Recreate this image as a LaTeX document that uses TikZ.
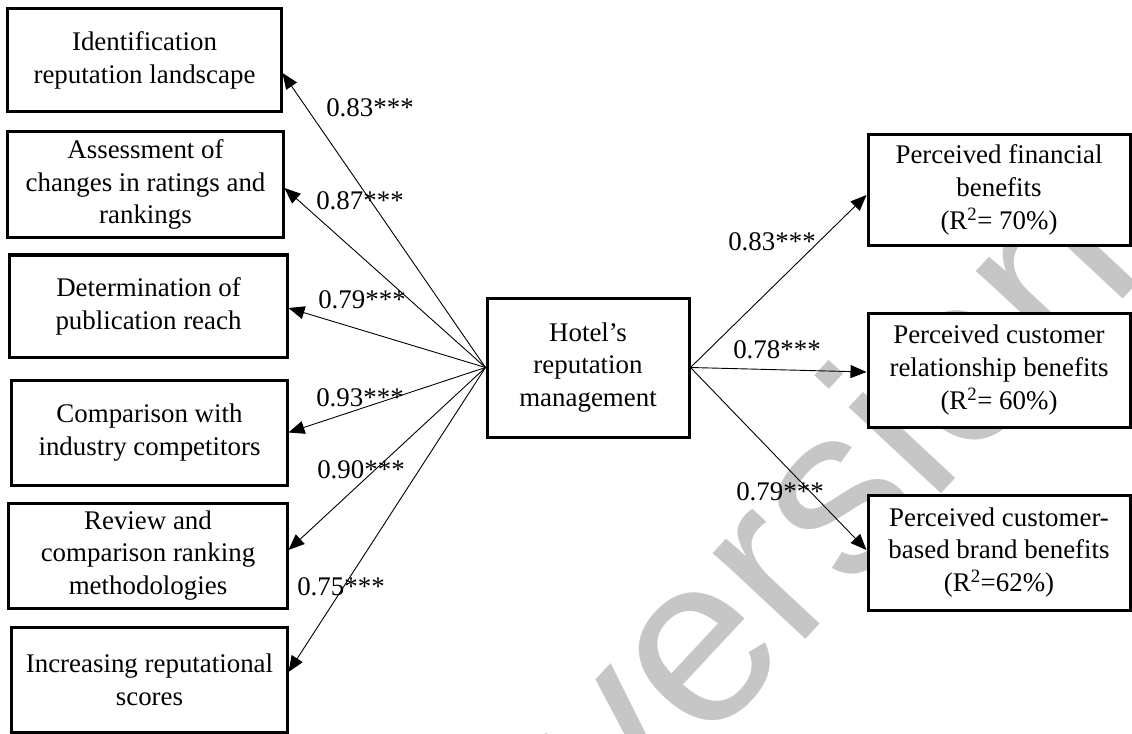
\documentclass[tikz,border=0pt]{standalone}
\usepackage{fontspec}
\setmainfont{Liberation Serif}
\newfontfamily\wmfont{Liberation Sans}
\usetikzlibrary{arrows.meta,calc}
\definecolor{wmgray}{RGB}{198,198,198}
\begin{document}
\begin{tikzpicture}[x=1bp,y=-1bp,
  box/.style={draw, line width=3bp, fill=white, align=center, inner sep=0pt,
    font=\fontsize{27}{33}\selectfont},
  arr/.style={line width=0.9bp, -{Triangle[length=16bp,width=13bp]}},
  lab/.style={inner sep=0pt, font=\fontsize{27}{33}\selectfont}]
\useasboundingbox (0,0) rectangle (1132,734);
\begin{scope}
\clip (0,0) rectangle (1132,734);
\node[text=wmgray, font=\wmfont\fontsize{240}{240}\selectfont, rotate=47, inner sep=0pt] (wm) at (823,496) {version};
\end{scope}
% left boxes
\node[box, minimum width=273bp, minimum height=103bp] (L1) at (144.5,60.5) {Identification\\reputation landscape};
\node[box, minimum width=275bp, minimum height=105bp] (L2) at (145.5,184.5) {Assessment of\\changes in ratings and\\rankings};
\node[box, minimum width=277bp, minimum height=102bp] (L3) at (148.5,306) {Determination of\\publication reach};
\node[box, minimum width=275bp, minimum height=105bp] (L4) at (149.5,432.5) {Comparison with\\industry competitors};
\node[box, minimum width=278bp, minimum height=105bp] (L5) at (148,555.5) {Review and\\comparison ranking\\methodologies};
\node[box, minimum width=275bp, minimum height=105bp] (L6) at (149.5,679.5) {Increasing reputational\\scores};
% centre
\node[box, minimum width=202bp, minimum height=139bp] (C) at (588,367.5) {Hotel’s\\reputation\\management};
% right boxes
\node[box, minimum width=262bp, minimum height=110bp] (R1) at (999,190) {Perceived financial\\benefits\\(R\textsuperscript{2}= 70\%)};
\node[box, minimum width=262bp, minimum height=114bp] (R2) at (999,370) {Perceived customer\\relationship benefits\\(R\textsuperscript{2}= 60\%)};
\node[box, minimum width=262bp, minimum height=115bp] (R3) at (999,552.5) {Perceived customer-\\based brand benefits\\(R\textsuperscript{2}=62\%)};
% connectors
\draw[arr] (C.west) -- ($(L1.east)+(0,12.5)$);
\draw[arr] (C.west) -- ($(L2.east)+(0,3.5)$);
\draw[arr] (C.west) -- ($(L3.east)+(0,2)$);
\draw[arr] (C.west) -- (L4.east);
\draw[arr] (C.west) -- ($(L5.east)+(0,-5.5)$);
\draw[arr] (C.west) -- ($(L6.east)+(0,-7.5)$);
\draw[arr] (C.east) -- ($(R1.west)+(0,5)$);
\draw[arr] (C.east) -- ($(R2.west)+(0,2)$);
\draw[arr] (C.east) -- ($(R3.west)+(0,-2.5)$);
% labels
\node[lab] (l1) at (370,108) {0.83***};
\node[lab] (l2) at (360,201) {0.87***};
\node[lab] (l3) at (362,300) {0.79***};
\node[lab] (l4) at (360,398) {0.93***};
\node[lab] (l5) at (361,470) {0.90***};
\node[lab] (l6) at (341,587) {0.75***};
\node[lab] (r1) at (772,242) {0.83***};
\node[lab] (r2) at (777,350) {0.78***};
\node[lab] (r3) at (780,492) {0.79***};
\end{tikzpicture}
\end{document}
